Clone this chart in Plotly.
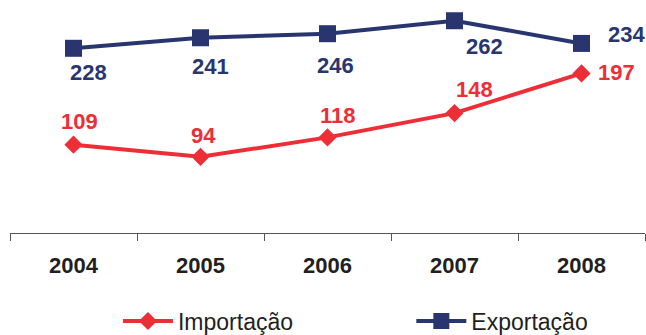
import plotly.graph_objects as go

# Annual trade totals
years = ["2004", "2005", "2006", "2007", "2008"]
importacao = [109, 94, 118, 148, 197]
exportacao = [228, 241, 246, 262, 234]

RED = "#ee2e36"
NAVY = "#28356f"
FONT = "Liberation Sans, Arial, sans-serif"

# Label offsets (px) relative to each marker
imp_shift = [(6, 23), (3, 21), (10, 22), (20, 24), (35, 1)]
exp_shift = [(15, -24), (10, -29), (8, -32), (30, -26), (45, 9)]

fig = go.Figure()
fig.add_trace(go.Scatter(
    x=years, y=importacao, name="Importação", mode="lines+markers",
    line=dict(color=RED, width=4),
    marker=dict(symbol="diamond", size=14, color=RED),
    cliponaxis=False, legend="legend",
))
fig.add_trace(go.Scatter(
    x=years, y=exportacao, name="Exportação", mode="lines+markers",
    line=dict(color=NAVY, width=4),
    marker=dict(symbol="square", size=17, color=NAVY),
    cliponaxis=False, legend="legend2",
))

# Value labels; category positions given by index so "2004" is not read as a number
for i, v in enumerate(importacao):
    dx, dy = imp_shift[i]
    fig.add_annotation(x=i, y=v, text=str(v), showarrow=False,
                       xshift=dx, yshift=dy,
                       font=dict(family=FONT, size=22, color=RED, weight="bold"))
for i, v in enumerate(exportacao):
    dx, dy = exp_shift[i]
    fig.add_annotation(x=i, y=v, text=str(v), showarrow=False,
                       xshift=dx, yshift=dy,
                       font=dict(family=FONT, size=22, color=NAVY, weight="bold"))

legend_style = dict(
    orientation="h", xanchor="left", y=-0.378, yanchor="middle",
    itemwidth=50, font=dict(family=FONT, size=23, color="#231f20"),
    bgcolor="rgba(0,0,0,0)",
)

fig.update_layout(
    width=646, height=335,
    margin=dict(l=10, r=1, t=0, b=102, autoexpand=False),
    paper_bgcolor="white", plot_bgcolor="white",
    showlegend=True,
    legend=dict(x=0.170, **legend_style),
    legend2=dict(x=0.632, **legend_style),
    xaxis=dict(
        type="category", range=[-0.5, 4.5],
        showline=True, linecolor="#555555", linewidth=1,
        ticks="outside", tickson="boundaries", ticklen=7, tickcolor="#555555",
        ticklabelstandoff=13,
        showgrid=False, zeroline=False,
        tickfont=dict(family=FONT, size=22, color="#231f20", weight="bold"),
    ),
    yaxis=dict(
        range=[0, 287.6], visible=False, showgrid=False, zeroline=False,
    ),
)

fig.write_html("out.html")
